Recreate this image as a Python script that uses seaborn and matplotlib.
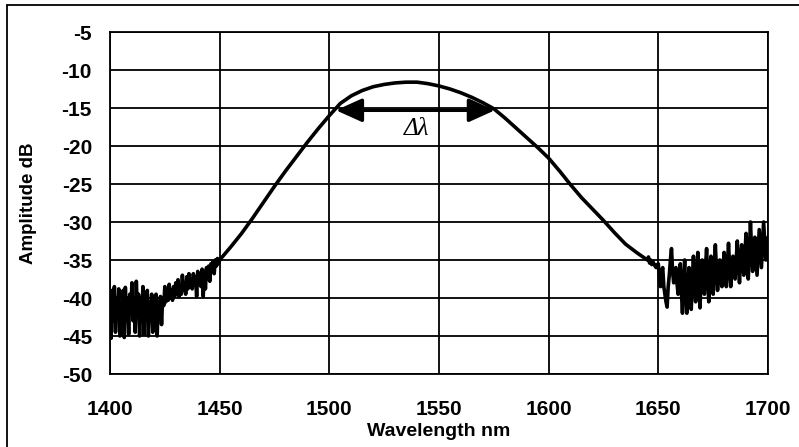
import numpy as np
import pandas as pd
import matplotlib
matplotlib.use("Agg")
import matplotlib.pyplot as plt
import seaborn as sns
from matplotlib.lines import Line2D

# ---- data ----
left_noise_wl = [1400 + 0.5 * i for i in range(100)]
left_noise_db = [-41, -45.3, -39, -43, -38.5, -44.5, -40, -42, -38.8, -45,
                 -40.5, -43.5, -39, -45.2, -38.6, -42.5, -40, -44.8, -39.5, -42,
                 -38, -43, -40.5, -44.5, -37.8, -42, -39.5, -45, -40, -43,
                 -38.5, -44.8, -40.2, -42, -39, -45, -40.5, -42.5, -39.5, -44.5,
                 -40, -41.5, -39.5, -45, -40.5, -42, -39.8, -43.5, -40, -41,
                 -38.5, -40.5, -39, -40.3, -38.2, -40, -39, -40.3, -38.5, -39.8,
                 -38, -39.5, -37.6, -39.8, -38.5, -39.5, -37, -39, -38, -39.5,
                 -37.2, -38.8, -36.8, -38.5, -37.5, -38.8, -36.8, -38, -37.2, -39.8,
                 -36.5, -38, -36.8, -38.5, -36.2, -39.8, -36.5, -38.8, -36, -37.5,
                 -35.8, -37.8, -35.5, -36.5, -35.2, -36.8, -35, -35.8, -34.8, -35.5]

main_wl = [1450, 1455, 1460, 1465, 1470, 1475, 1480, 1485, 1490, 1495,
           1500, 1505, 1510, 1515, 1520, 1525, 1530, 1535, 1540, 1545,
           1550, 1555, 1560, 1565, 1570, 1575, 1580, 1585, 1590, 1595,
           1600, 1605, 1610, 1615, 1620, 1625, 1630, 1635, 1640]
main_db = [-35.0, -33.3, -31.5, -29.5, -27.4, -25.3, -23.3, -21.4, -19.5, -17.7,
           -16.0, -14.4, -13.4, -12.7, -12.2, -11.9, -11.7, -11.6, -11.6, -11.8,
           -12.1, -12.5, -13.0, -13.6, -14.3, -15.1, -16.3, -17.6, -18.9, -20.2,
           -21.6, -23.3, -25.1, -26.8, -28.3, -29.8, -31.4, -32.9, -34.0]

right_noise_wl = [1645 + 0.5 * i for i in range(111)]
right_noise_db = [-35.0, -34.6, -35.4, -35.0, -35.6, -35.2,
                  -35.5, -35.8, -36, -35.6, -35.5, -37.5, -38.5, -36.5, -36, -38.5,
                  -39.5, -40.5, -41.2, -38.5, -37, -35, -33.5, -36.5, -38, -37,
                  -36, -38, -39.5, -37.5, -35.5, -39, -42, -38, -35, -39.5,
                  -42, -38.5, -36, -39, -41.5, -37.5, -34.5, -38, -40.5, -37,
                  -34, -38.5, -41.3, -37.5, -35, -38, -39.5, -36, -33.5, -37.5,
                  -40.5, -37, -34.5, -37.5, -39.5, -36, -33, -36.5, -39, -37,
                  -35, -37.5, -38.5, -36, -34, -36.5, -38.5, -35.5, -32.8, -36,
                  -38.5, -36.5, -34.5, -36, -37.5, -35, -32.5, -35.5, -38, -35,
                  -33, -35.5, -37, -34, -31.5, -34.5, -37.5, -34, -30, -33.5,
                  -36.5, -34, -32, -34.5, -37, -34, -31, -33.5, -36, -33,
                  -30, -32.5, -35, -33.5, -32]

x_ticks = [1400, 1450, 1500, 1550, 1600, 1650, 1700]
y_ticks = [-50, -45, -40, -35, -30, -25, -20, -15, -10, -5]
x_label = "Wavelength nm"
y_label = "Amplitude dB"
delta_label = "\u0394\u03bb"
arrow_left, arrow_right, arrow_level = 1503.0, 1575.5, -15.3

df = pd.DataFrame({
    "wl": left_noise_wl + main_wl + right_noise_wl,
    "db": left_noise_db + main_db + right_noise_db,
}).sort_values("wl")

sns.set_theme(style="white")
plt.rcParams['font.family'] = ['Liberation Sans', 'DejaVu Sans']
plt.rcParams['axes.unicode_minus'] = False

fig = plt.figure(figsize=(7.99, 4.47), dpi=100)
ax = fig.add_axes([110/799, 1-374/447, (768-110)/799, (374-32)/447])

sns.lineplot(data=df, x="wl", y="db", ax=ax, color="black", lw=2.6,
             sort=False, estimator=None)

ax.set_xlim(1400, 1700)
ax.set_ylim(-50, -5)
ax.set_xticks(x_ticks)
ax.set_yticks(y_ticks)
ax.grid(True, color="black", lw=1.3)
ax.set_axisbelow(True)
for s in ax.spines.values():
    s.set_visible(True)
    s.set_color("black")
    s.set_linewidth(1.3)

ax.tick_params(axis="y", direction="out", length=5, width=1.3, color="black",
               pad=8, labelsize=15)
ax.tick_params(axis="x", length=0, pad=18.5, labelsize=15)
for lab in ax.get_xticklabels() + ax.get_yticklabels():
    lab.set_fontweight("bold")
    lab.set_color("black")

ax.set_xlabel(x_label, fontsize=14, fontweight="bold", color="black", labelpad=3)
ax.set_ylabel(y_label, fontsize=13.5, fontweight="bold", color="black", labelpad=18)

ax.annotate("", xy=(arrow_left, arrow_level), xytext=(arrow_right, arrow_level),
            arrowprops=dict(arrowstyle="<|-|>,head_length=1.0,head_width=0.45",
                            color="black", lw=2.5, mutation_scale=16,
                            shrinkA=0, shrinkB=0))
ax.text(1540, -17.7, delta_label, fontsize=18, style="italic",
        family=["Liberation Serif", "DejaVu Serif"], ha="center", va="center",
        color="black")

# figure frame (left and top edges visible in the reference)
fig.add_artist(Line2D([7/799, 7/799], [0, 1-5/447], transform=fig.transFigure,
                      color="black", lw=1.3))
fig.add_artist(Line2D([7/799, 1], [1-5/447, 1-5/447], transform=fig.transFigure,
                      color="black", lw=1.3))

fig.savefig("out.png", dpi=100)
